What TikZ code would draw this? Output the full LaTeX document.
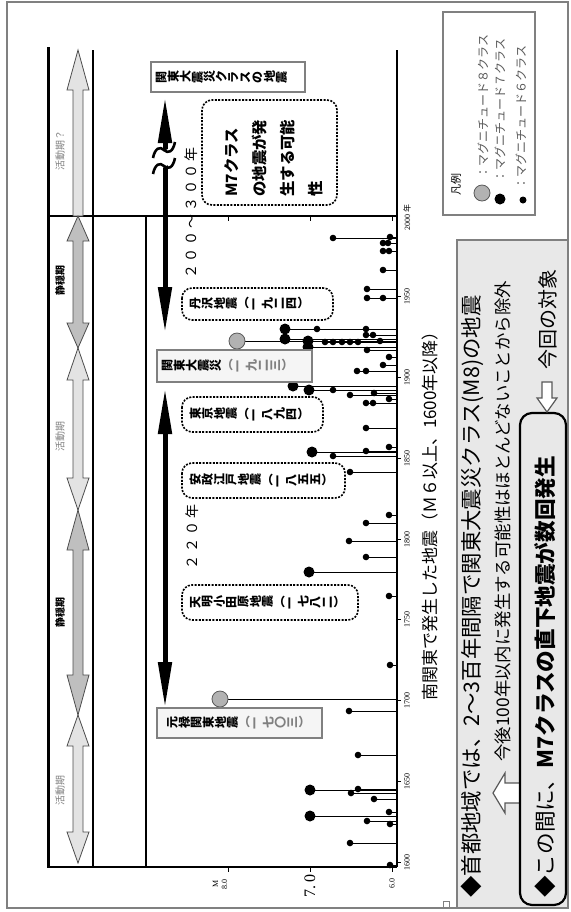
\documentclass[tikz,border=0pt]{standalone}
\usepackage{fontspec}
\setmainfont{Noto Sans CJK JP}
\newfontfamily\serif{Liberation Serif}
\newfontfamily\wide{Noto Sans CJK JP}[LetterSpace=20]
\usetikzlibrary{arrows.meta}
\makeatletter
\newcommand\tate[1]{\@tfor\tc:=#1\do{\makebox[1em]{\rotatebox[origin=c]{90}{\tc}}}}
\makeatother

\begin{document}
\begin{tikzpicture}[x=0.5pt,y=-0.5pt]
\tikzstyle{stem}=[line width=0.5pt]
\tikzstyle{vert}=[rotate=90,inner sep=0]
\tikzstyle{quake}=[draw,fill=white,rounded corners=5pt,line width=0.8pt,dash pattern=on 1pt off 0.7pt]
\tikzstyle{fixed}=[draw=gray,fill=gray!8,line width=0.6pt]
\tikzstyle{lbl}=[anchor=west,inner sep=0,font=\fontsize{6}{7}\selectfont\bfseries]
\tikzstyle{quiet}=[fill=gray!50,draw=gray!60!black,line width=0.4pt]
\tikzstyle{active}=[fill=gray!22,draw=gray!60!black,line width=0.4pt]
\tikzstyle{bigarr}=[line width=2.5pt,{Triangle[length=23pt,width=6.5pt]}-{Triangle[length=23pt,width=6.5pt]}]
\tikzstyle{hollow}=[fill=white,draw=gray!70!black,line width=0.6pt]

\useasboundingbox (0,0) rectangle (571,912);
\draw[gray,line width=0.7pt] (7,2) rectangle (568,908);

% frame of the chart
\draw[line width=1.5pt] (48,47) -- (48,867);
\draw[line width=0.8pt] (93,50) -- (93,867);
\draw[line width=0.6pt] (146,216) -- (146,867);
\draw[line width=1.3pt] (47,867) -- (397,867);
\draw[line width=1.3pt] (48,216) -- (397,216);
\draw[line width=1pt] (397,50) -- (397,867);
\foreach \m in {228,310,392} {
  \draw (\m,867) -- ++(0,5);
  \draw (\m,216) -- ++(0,5);
}

% active / quiet periods
\draw[active] (73,216) -- (73,90) -- (67,90) -- (78,50) -- (89,90) -- (83,90) -- (83,216) -- cycle;
\foreach \a/\b/\h/\s in {216/348/25/quiet,348/510/32/active,510/715/40/quiet,715/863/31/active}
  \draw[\s] (78,\a) -- (89,\a+\h) -- (83,\a+\h) -- (83,\b-\h) -- (89,\b-\h) -- (78,\b)
    -- (67,\b-\h) -- (73,\b-\h) -- (73,\a+\h) -- (67,\a+\h) -- cycle;
\node[vert,text=gray,font=\fontsize{5}{6}\selectfont] (act3) at (60,150) {活動期？};
\node[vert,font=\fontsize{5}{6}\selectfont\bfseries] (qui2) at (60,280) {静穏期};
\node[vert,text=gray,font=\fontsize{5}{6}\selectfont] (act2) at (60,436) {活動期};
\node[vert,font=\fontsize{5}{6}\selectfont\bfseries] (qui1) at (60,612) {静穏期};
\node[vert,text=gray,font=\fontsize{5}{6}\selectfont] (act1) at (60,790) {活動期};

% earthquakes
\foreach \px/\py in {390/865,350/843,390/824,367/821,389/812,374/799,351/793,358/789,358/755,
  349/711,390/665,389/596,366/557,349/541,366/523,389/515,350/472,333/456,366/451,389/447,
  366/428,366/403,373/403,389/399,374/393,350/395,333/390,357/371,366/371,383/365,389/357,
  367/350,380/341,373/335,366/335,366/329,317/329,325/342,333/342,342/342,350/342,358/342,
  383/298,367/298,367/289,383/270,383/251,389/251,383/243,388/243,390/237,333/238} {
  \draw[stem] (\px,\py) -- (397,\py);
  \fill (\px,\py) circle (3.3);
}
\foreach \px/\py in {310/790,310/816,309/572,312/452,293/386,309/390,285/329,285/339,308/341,308/347} {
  \draw[stem] (\px,\py) -- (397,\py);
  \fill (\px,\py) circle (5.5);
}
\foreach \px/\py in {220/699,237/341} {
  \draw[stem] (\px,\py) -- (397,\py);
  \filldraw[fill=gray!60,draw=gray!70!black] (\px,\py) circle (8);
}

% intervals
\draw[bigarr] (165,333) -- (165,97);
\draw[bigarr] (165,708) -- (165,388);
\fill[white] (152,157) -- (176,145) -- (176,161) -- (152,173) -- cycle;
\foreach \d in {0,16}
  \draw[line width=1.3pt] (153,158+\d) .. controls (155,148+\d) and (160,146+\d) .. (164,150+\d)
    .. controls (168,154+\d) and (173,152+\d) .. (175,142+\d);
\node[vert,font=\wide\fontsize{7}{8}\selectfont] (span1) at (191,213) {２００〜３００年};
\node[vert,font=\wide\fontsize{7}{8}\selectfont] (span2) at (192,537) {２２０年};

\draw[quake] (202,100) rectangle (337,205);
\node[vert,anchor=north west,align=left,font=\fontsize{7.7}{14}\selectfont\bfseries] (m7txt) at (224,197)
  {M7クラス\\の地震が発\\生する可能\\性};

% named earthquakes
\draw[fixed,fill=white] (151,62) rectangle (305,92);
\node[lbl] (kclass) at (155,77) {\tate{関東大震災クラスの地震}};
\draw[quake] (182,288) rectangle (333,320);
\node[lbl] (tanzawa) at (189,304) {\tate{丹沢地震}（\tate{一九二四}）};
\draw[fixed] (157,350) rectangle (312,382);
\node[lbl] (kanto) at (161,366) {\tate{関東大震災}{\color{gray}（\tate{一九二三}）}};
\draw[quake] (182,397) rectangle (323,432);
\node[lbl] (tokyo) at (189,414.5) {\tate{東京地震}（\tate{一八九四}）};
\draw[quake] (182,463) rectangle (345,498);
\node[lbl] (ansei) at (189,480.5) {\tate{安政江戸地震}（\tate{一八五五}）};
\draw[quake] (182,585) rectangle (358,620);
\node[lbl] (tenmei) at (189,602.5) {\tate{天明小田原地震}（\tate{一七八二}）};
\draw[fixed] (157,708) rectangle (322,738);
\node[lbl] (genroku) at (166,723) {\tate{元禄関東地震}{\color{gray}（\tate{一七〇三}）}};

% axes labels
\foreach \yr in {1600,1650,...,1950} {
  \draw (397,{862-1.615*(\yr-1600)}) -- ++(4,0);
  \node[vert,font=\serif\fontsize{4}{5}\selectfont] (y\yr) at (407,{862-1.615*(\yr-1600)}) {\yr};
}
\node[vert,anchor=west,font=\fontsize{4}{5}\selectfont] (y2000) at (407,231) {{\serif 2000}~年};
\node[vert,align=center,font=\serif\fontsize{4}{4.5}\selectfont] (m8) at (220,884) {M\\8.0};
\node[vert,font=\serif\fontsize{8}{9}\selectfont] (m7) at (310,886) {7.\,0};
\node[vert,font=\serif\fontsize{4}{5}\selectfont] (m6) at (392,883) {6.0};
\node[vert,font=\fontsize{8.5}{10}\selectfont] (caption) at (430,512) {南関東で発生した地震（Ｍ６以上、1600年以降）};

% legend
\draw[gray,line width=0.6pt] (443,12) rectangle (535,215);
\node[vert,font=\fontsize{5.5}{6}\selectfont] (lgd) at (456,184) {凡例};
\filldraw[fill=gray!60,draw=gray!70!black] (482,193) circle (8);
\fill (500,199) circle (5.5);
\fill (523,200) circle (3.5);
\node[vert,anchor=west,font=\fontsize{6}{7}\selectfont,text=gray!70!black] (l8) at (483,179) {：マグニチュード８クラス};
\node[vert,anchor=west,font=\fontsize{6}{7}\selectfont,text=gray!70!black] (l7) at (500,183) {：マグニチュード７クラス};
\node[vert,anchor=west,font=\fontsize{6}{7}\selectfont,text=gray!70!black] (l6) at (521,190) {：マグニチュード６クラス};

% summary
\draw[gray,fill=gray!18,line width=0.6pt] (457,240) rectangle (568,908);
\node[vert,anchor=west,font=\fontsize{10.7}{12}\selectfont] (note1) at (472,898)
  {◆首都地域では、2〜3百年間隔で関東大震災クラス(M8)の地震};
\draw[hollow] (493,793) -- (505,773) -- (505,783) -- (520,783) -- (520,803) -- (505,803) -- (505,813) -- cycle;
\node[vert,anchor=west,font=\fontsize{8.7}{10}\selectfont] (note2) at (503,762)
  {今後100年以内に発生する可能性はほとんどないことから除外};
\draw[rounded corners=6pt,line width=1.1pt] (520,413) rectangle (566,905);
\node[vert,anchor=west,font=\fontsize{10.8}{12}\selectfont] (note3) at (545,898)
  {◆この間に、\textbf{M7クラスの直下地震が数回発生}};
\draw[hollow] (547,412) -- (537,398) -- (542,398) -- (542,382) -- (552,382) -- (552,398) -- (557,398) -- cycle;
\node[vert,anchor=west,font=\fontsize{10}{12}\selectfont] (note4) at (548,370) {今回の対象};
\draw[gray] (443,901) rectangle (449,907);
\end{tikzpicture}
\end{document}
